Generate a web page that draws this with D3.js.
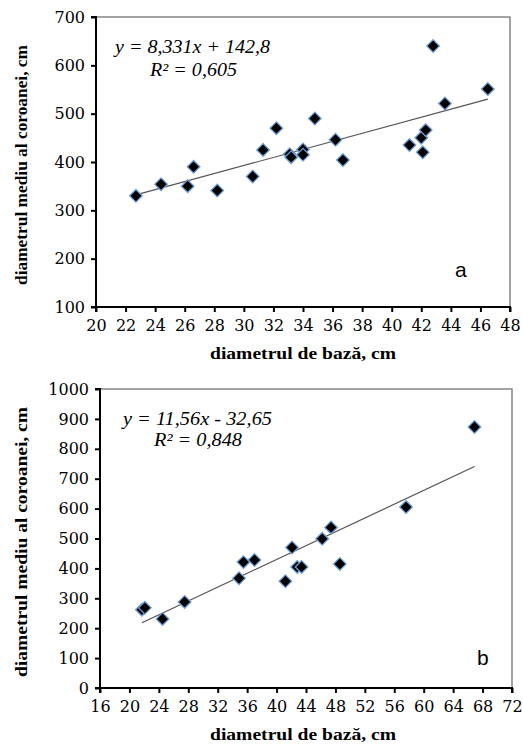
<!DOCTYPE html>
<html lang="ro">
<head>
  <meta charset="UTF-8">
  <title>diametrul coroanei</title>
  <script src="https://cdn.jsdelivr.net/npm/d3@7"></script>
</head>
<body>
<style>
  * { padding: 0; margin: 0; }
  body { background: #fff; }
  #app { width: 523px; height: 746px; }
  svg text { font-family: "Liberation Serif", "Times New Roman", serif; }
  .tick text { font-family: "DejaVu Serif", serif; font-size: 16px; fill: #000; }
  .ttl { font-weight: bold; font-size: 17px; }
  .eq { font-style: italic; font-size: 18px; }
  svg text.tag { font-family: "Liberation Sans", Arial, sans-serif; font-size: 21px; }
</style>

<div id="app"></div>

<script>
  // panel a
  const xA = [22.7, 24.4, 26.6, 26.2, 28.2, 30.6, 31.3, 32.2, 33.1, 33.2, 34.0, 34.0, 34.8, 36.2, 36.7,
              41.2, 42.0, 42.1, 42.3, 42.8, 43.6, 46.5];
  const yA = [330, 354, 390, 350, 341, 370, 425, 470, 416, 410, 426, 415, 490, 446, 404,
              435, 450, 420, 466, 640, 521, 551];
  const xTicksA = d3.range(20, 49, 2);
  const yTicksA = [100, 200, 300, 400, 500, 600, 700];
  const trendA = [8.331, 142.8];

  // panel b
  const xB = [21.7, 22.1, 24.5, 27.5, 34.9, 35.5, 37.0, 41.2, 42.1, 42.8, 43.4, 46.2, 47.4, 48.6, 57.6, 66.9];
  const yB = [262, 268, 231, 288, 367, 421, 428, 357, 470, 405, 405, 499, 537, 415, 605, 873];
  const xTicksB = d3.range(16, 73, 4);
  const yTicksB = d3.range(0, 1001, 100);
  const trendB = [11.56, -32.65];

  const svg = d3.select("#app").append("svg").attr("width", 523).attr("height", 746)

  function panel(o) {
    const sx = d3.scaleLinear().domain(o.xd).range([o.l, o.r])
    const sy = d3.scaleLinear().domain(o.yd).range([o.b, o.t])
    const g = svg.append("g")

    // frame top/right
    g.append("path").attr("d", `M${o.l},${o.t}H${o.r}V${o.b}`)
      .attr("fill", "none").attr("stroke", "#858585").attr("stroke-width", 1.5)

    const ax = g.append("g").attr("transform", `translate(0,${o.b})`)
      .call(d3.axisBottom(sx).tickValues(o.xt).tickFormat(d3.format("d")).tickSize(5).tickSizeOuter(5).tickPadding(6))
    const ay = g.append("g").attr("transform", `translate(${o.l},0)`)
      .call(d3.axisLeft(sy).tickValues(o.yt).tickFormat(d3.format("d")).tickSize(5).tickSizeOuter(5).tickPadding(6))
    ax.attr("font-family", null)
    ay.attr("font-family", null)
    ax.selectAll("path, line").attr("stroke", "#000").attr("stroke-width", 2)
    ay.selectAll("path, line").attr("stroke", "#000").attr("stroke-width", 2)
    ax.select(".domain").attr("d", `M${o.l},5V0H${o.r}V5`)
    ay.select(".domain").attr("d", `M-5,${o.b}H0V${o.t}H-5`)
    ax.selectAll(".tick text").attr("dy", "0.8em")

    // trend line
    const x0 = d3.min(o.xs), x1 = d3.max(o.xs)
    g.append("line")
      .attr("x1", sx(x0)).attr("y1", sy(o.k[0] * x0 + o.k[1]))
      .attr("x2", sx(x1)).attr("y2", sy(o.k[0] * x1 + o.k[1]))
      .attr("stroke", "#555").attr("stroke-width", 1.2)

    // markers
    const sym = d3.symbol(d3.symbolSquare).size(80)
    g.selectAll("path.pt").data(o.xs.map((x, i) => [x, o.ys[i]])).enter().append("path")
      .attr("class", "pt")
      .attr("d", sym)
      .attr("transform", d => `translate(${sx(d[0])},${sy(d[1])}) rotate(45)`)
      .attr("fill", "#000").attr("stroke", "#6f9fd8").attr("stroke-width", 1.3)

    // equation
    g.append("text").attr("class", "eq").attr("x", o.eq[0]).attr("y", o.eq[1])
      .attr("textLength", o.eqLen[0]).attr("lengthAdjust", "spacingAndGlyphs").text(o.eqs[0])
    g.append("text").attr("class", "eq").attr("x", o.eq[2]).attr("y", o.eq[3])
      .attr("textLength", o.eqLen[1]).attr("lengthAdjust", "spacingAndGlyphs").text(o.eqs[1])

    g.append("text").attr("class", "tag").attr("x", o.tag[0]).attr("y", o.tag[1]).text(o.tag[2])

    g.append("text").attr("class", "ttl").attr("text-anchor", "middle")
      .attr("x", 303).attr("y", o.xtY)
      .attr("textLength", 186).attr("lengthAdjust", "spacingAndGlyphs")
      .text("diametrul de bază, cm")

    g.append("text").attr("class", "ttl").attr("text-anchor", "middle")
      .attr("font-size", 15)
      .attr("transform", `translate(27,${o.ytY}) rotate(-90)`)
      .attr("textLength", o.ytLen).attr("lengthAdjust", "spacingAndGlyphs")
      .text("diametrul mediu al coroanei, cm")
  }

  panel({
    xd: [20, 48], yd: [100, 700], l: 96, r: 510, t: 17, b: 307,
    xt: xTicksA, yt: yTicksA, xs: xA, ys: yA, k: trendA,
    eq: [115, 53, 150, 76], eqLen: [155, 87], eqs: ["y = 8,331x + 142,8", "R² = 0,605"],
    tag: [455, 277, "a"], xtY: 359, ytY: 165, ytLen: 240
  })

  panel({
    xd: [16, 72], yd: [0, 1000], l: 100, r: 512, t: 389, b: 688,
    xt: xTicksB, yt: yTicksB, xs: xB, ys: yB, k: trendB,
    eq: [123, 425, 154, 446], eqLen: [149, 88], eqs: ["y = 11,56x - 32,65", "R² = 0,848"],
    tag: [477, 665, "b"], xtY: 740, ytY: 542, ytLen: 270
  })
</script>
</body>
</html>
